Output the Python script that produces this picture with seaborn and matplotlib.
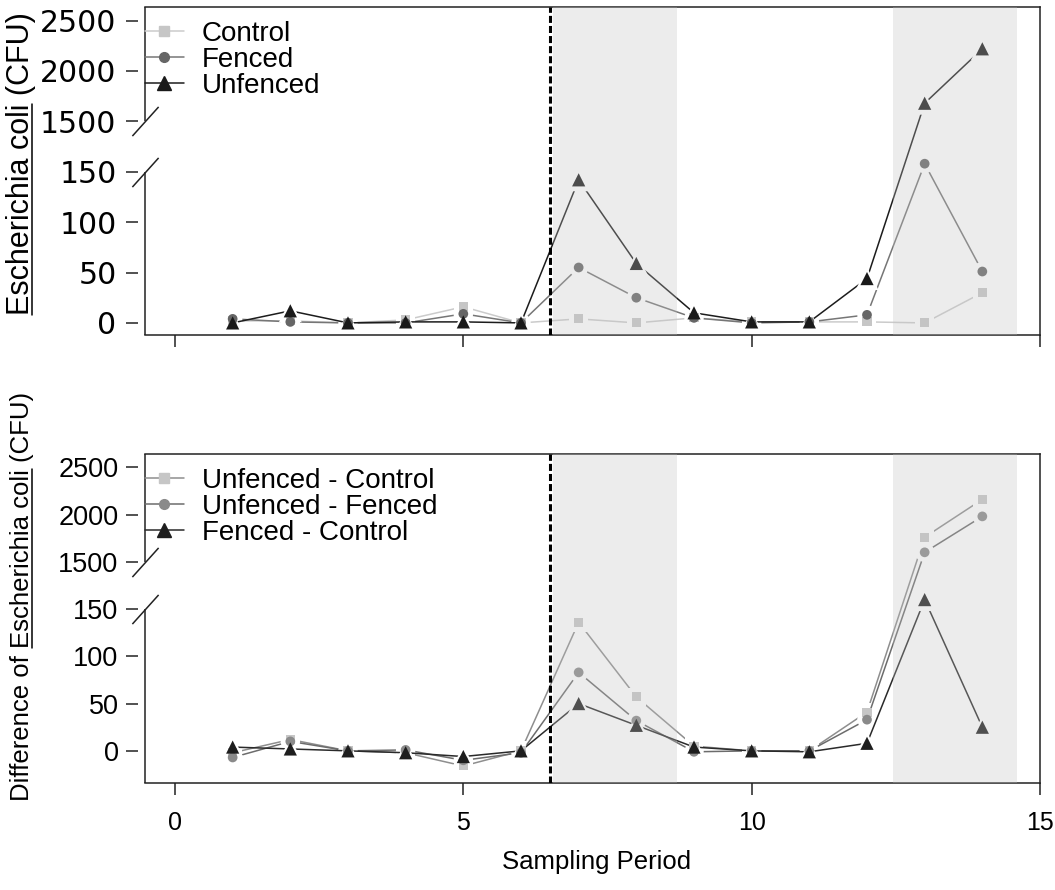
import numpy as np
import pandas as pd
import matplotlib
matplotlib.use("Agg")
import matplotlib.pyplot as plt
from matplotlib.lines import Line2D
from matplotlib.path import Path
import seaborn as sns

# ---------------------------------------------------------------- data
periods = list(range(1, 15))

control = [2, 2, 0, 3, 16, 0, 4, 0, 5, 1, 1, 1, 0, 30]
fenced = [4, 1, 0, 0, 9, 0, 55, 25, 5, 0, 1, 8, 158, 51]
unfenced = [0, 12, 0, 1, 1, 0, 142, 59, 10, 1, 1, 44, 1680, 2220]

unfenced_minus_control = [-2, 12, 0, -2, -16, 0, 136, 57, 5, 0, 0, 41, 1760, 2160]
unfenced_minus_fenced = [-7, 10, 0, 1, -10, -2, 83, 32, -1, 0, 0, 33, 1600, 1980]
fenced_minus_control = [4, 2, 0, -2, -6, 0, 50, 27, 4, 0, -1, 8, 160, 25]

top_names = ["Control", "Fenced", "Unfenced"]
bottom_names = ["Unfenced - Control", "Unfenced - Fenced", "Fenced - Control"]

y_ticks = [0, 50, 100, 150, 1500, 2000, 2500]
x_ticks = [0, 5, 10, 15]
treatment_start = 6.5
shaded_periods = [(6.55, 8.7), (12.45, 14.6)]

# ---------------------------------------------------------------- frames
top_df = pd.DataFrame({
    "period": periods * 3,
    "value": control + fenced + unfenced,
    "series": np.repeat(top_names, len(periods)),
})
bottom_df = pd.DataFrame({
    "period": periods * 3,
    "value": unfenced_minus_control + unfenced_minus_fenced + fenced_minus_control,
    "series": np.repeat(bottom_names, len(periods)),
})

# ---------------------------------------------------------------- broken y scale
LOW_END, HIGH_START = 175.0, 1500.0


def fwd(y):
    y = np.asarray(y, dtype=float)
    mid = LOW_END + (y - LOW_END) * 25.0 / (HIGH_START - LOW_END)
    high = 200.0 + (y - HIGH_START) / 10.0
    return np.where(y <= LOW_END, y, np.where(y < HIGH_START, mid, high))


def inv(t):
    t = np.asarray(t, dtype=float)
    mid = LOW_END + (t - LOW_END) * (HIGH_START - LOW_END) / 25.0
    high = HIGH_START + (t - 200.0) * 10.0
    return np.where(t <= LOW_END, t, np.where(t < 200.0, mid, high))


# ---------------------------------------------------------------- style
sns.set_theme(style="white")
plt.rcParams["font.family"] = ["Liberation Sans", "DejaVu Sans"]
INK = "#222222"
TICK_FS = 18
LEGEND_FS = 20

W, H, DPI = 1055, 890, 100
fig = plt.figure(figsize=(W / DPI, H / DPI), dpi=DPI)
fig.patch.set_facecolor("white")


def px_axes(left, top, right, bottom):
    return fig.add_axes([left / W, 1 - bottom / H, (right - left) / W, (bottom - top) / H])


ax_top = px_axes(145, 7, 1040, 335)
ax_bot = px_axes(145, 454, 1040, 783)

# name, line colour, marker colour, marker, marker size (pt)
top_specs = [
    ("Control", "#cbcbcb", "#c6c6c6", "s", 6.5),
    ("Fenced", "#767676", "#666666", "o", 7.0),
    ("Unfenced", "#1c1c1c", "#1a1a1a", "^", 9.5),
]
bottom_specs = [
    ("Unfenced - Control", "#8e8e8e", "#c6c6c6", "s", 6.5),
    ("Unfenced - Fenced", "#6c6c6c", "#8a8a8a", "o", 7.0),
    ("Fenced - Control", "#2a2a2a", "#1e1e1e", "^", 9.5),
]

slash = Path([(-0.45, -0.5), (0.45, 0.5)])


def draw_panel(ax, frame, specs, ylim, show_xlabels, ytick_size, ytick_family, ytick_pad):
    ax.set_facecolor("white")
    # each line, with a white halo around its own points so the line stops short
    for i, (name, lc, mc, mk, ms) in enumerate(specs):
        sub = frame[frame["series"] == name]
        sns.lineplot(data=sub, x="period", y="value", ax=ax, color=lc, lw=1.1,
                     errorbar=None, legend=False, zorder=2 + 0.1 * i)
        sns.scatterplot(data=sub, x="period", y="value", ax=ax, color="white",
                        marker=mk, s=(ms + 7) ** 2, edgecolor="none", linewidth=0,
                        legend=False, zorder=2.05 + 0.1 * i)
    # the points themselves
    for i, (name, lc, mc, mk, ms) in enumerate(specs):
        sub = frame[frame["series"] == name]
        sns.scatterplot(data=sub, x="period", y="value", ax=ax, color=mc,
                        marker=mk, s=ms ** 2, edgecolor="none", linewidth=0,
                        legend=False, zorder=3 + 0.1 * i)

    # treatment periods, drawn over the data as a translucent band
    for lo, hi in shaded_periods:
        ax.axvspan(lo, hi, facecolor="#c2c2c2", alpha=0.3, edgecolor="none", zorder=4)
    ax.axvline(treatment_start, color="black", lw=2.2, dashes=(2.3, 1.0), zorder=5)

    ax.set_yscale("function", functions=(fwd, inv))
    ax.set_ylim(*ylim)
    ax.set_xlim(-0.52, 15.0)
    ax.set_yticks(y_ticks)
    ax.set_yticklabels([str(v) for v in y_ticks])
    ax.set_xticks(x_ticks)
    if show_xlabels:
        ax.set_xticklabels([str(v) for v in x_ticks])
    else:
        ax.set_xticklabels([])
    ax.set_xlabel("")
    ax.set_ylabel("")

    for side in ("top", "right", "bottom"):
        ax.spines[side].set_visible(True)
        ax.spines[side].set_color(INK)
        ax.spines[side].set_linewidth(1.1)
    ax.spines["left"].set_visible(False)
    ax.spines["left"].set_position(("outward", 5))

    ax.tick_params(axis="y", which="both", direction="out", length=8.5, width=1.1,
                   color=INK, pad=ytick_pad, labelsize=ytick_size,
                   labelfontfamily=ytick_family, labelcolor="black", left=True)
    ax.tick_params(axis="x", which="both", direction="out", length=8.5, width=1.1,
                   color=INK, pad=12, labelsize=TICK_FS, labelcolor="black", bottom=True)
    ax.minorticks_off()

    # broken left edge with slash marks at the gap
    ytr = ax.get_yaxis_transform()
    ax.plot([0, 0], [ylim[0], 150], transform=ytr, color=INK, lw=1.1,
            clip_on=False, zorder=6, solid_capstyle="butt")
    ax.plot([0, 0], [1500, ylim[1]], transform=ytr, color=INK, lw=1.1,
            clip_on=False, zorder=6, solid_capstyle="butt")
    ax.plot([0, 0], [150, 1500], transform=ytr, linestyle="none", marker=slash,
            markersize=21, markerfacecolor="none", markeredgecolor=INK,
            markeredgewidth=1.1, clip_on=False, zorder=6)

    handles = [
        Line2D([], [], color=lc, lw=1.1, marker=mk, markersize=ms,
               markerfacecolor=mc, markeredgecolor=mc)
        for (name, lc, mc, mk, ms) in specs
    ]
    leg = ax.legend(handles, [s[0] for s in specs], loc="upper left",
                    bbox_to_anchor=(0.0, 1.0 - 14 / 328), frameon=False,
                    fontsize=LEGEND_FS, handlelength=1.4, handletextpad=0.65,
                    labelspacing=0.0, borderpad=0, borderaxespad=0)
    leg.set_zorder(7)
    for txt in leg.get_texts():
        txt.set_color("black")


draw_panel(ax_top, top_df, top_specs, (-12, 2635), show_xlabels=False,
           ytick_size=21.5, ytick_family="DejaVu Sans", ytick_pad=7)
draw_panel(ax_bot, bottom_df, bottom_specs, (-34, 2640), show_xlabels=True,
           ytick_size=19.5, ytick_family="Liberation Sans", ytick_pad=5.5)

fig.text(597 / W, 1 - 862 / H, "Sampling Period", ha="center", va="center",
         fontsize=18.5, color="black")

# y labels with the organism name underlined
label_specs = [
    ("", "Escherichia coli", " (CFU)", 21, 164, 22),
    ("Difference of ", "Escherichia coli", " (CFU)", 22, 596, 18.5),
]
texts = []
for pre, under, post, xc, yc, fs in label_specs:
    t = fig.text(xc / W, 1 - yc / H, pre + under + post, rotation=90,
                 ha="center", va="center", fontsize=fs, color="black")
    texts.append((t, pre, under))

fig.canvas.draw()
renderer = fig.canvas.get_renderer()
for t, pre, under in texts:
    prop = t.get_fontproperties()
    bb = t.get_window_extent(renderer)
    w_under, _, _ = renderer.get_text_width_height_descent(under, prop, ismath=False)
    w_both, _, _ = renderer.get_text_width_height_descent(pre + under, prop, ismath=False)
    _, _, d_lp = renderer.get_text_width_height_descent("lp", prop, ismath=False)
    start = bb.y0 + (w_both - w_under)
    end = bb.y0 + w_both
    em = prop.get_size_in_points() * DPI / 72.0
    x_line = bb.x1 - d_lp + 0.1 * em
    fig.add_artist(Line2D([x_line / W, x_line / W], [start / H, end / H],
                          transform=fig.transFigure, color="black", lw=1.1))

fig.savefig("out.png", dpi=DPI, facecolor="white")
